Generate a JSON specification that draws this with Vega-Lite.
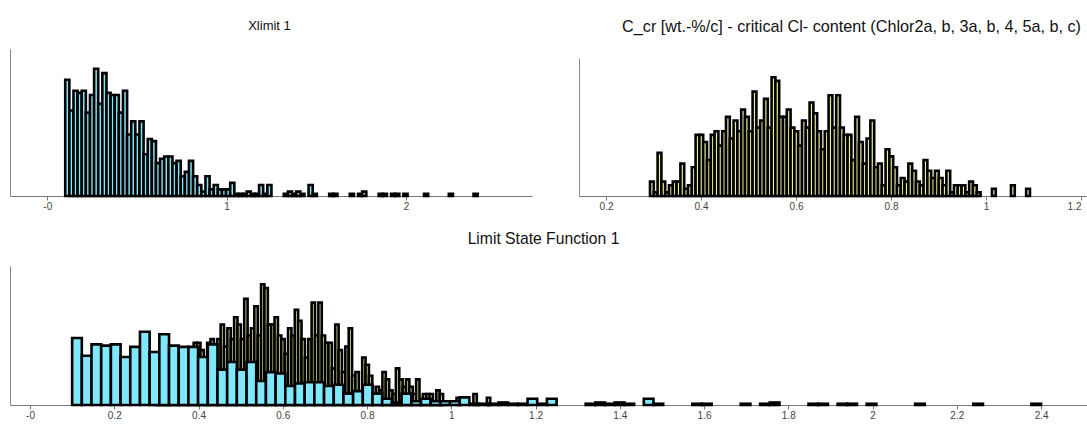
{
  "$schema": "https://vega.github.io/schema/vega-lite/v6.json",
  "padding": {"left": 10, "top": 18, "right": 0, "bottom": 0},
  "background": "white",
  "config": {
    "view": {"stroke": null},
    "font": "Liberation Sans",
    "axis": {"grid": false, "domainColor": "#777777", "domainWidth": 1, "tickColor": "#777777", "tickSize": 4, "labelColor": "#444444", "labelFontSize": 10, "labelFont": "Liberation Sans", "labelPadding": 1, "minExtent": 0, "title": null},
    "title": {"font": "Liberation Sans", "fontWeight": "normal", "color": "#111111", "anchor": "middle", "frame": "group"}
  },
  "datasets": {
    "xl": [
      {"lo": 0.1, "hi": 0.123, "n": 53}, {"lo": 0.123, "hi": 0.146, "n": 39}, {"lo": 0.146, "hi": 0.169, "n": 48}, {"lo": 0.169, "hi": 0.192, "n": 47},
      {"lo": 0.192, "hi": 0.215, "n": 48}, {"lo": 0.215, "hi": 0.238, "n": 38}, {"lo": 0.238, "hi": 0.261, "n": 46}, {"lo": 0.261, "hi": 0.284, "n": 58},
      {"lo": 0.284, "hi": 0.307, "n": 42}, {"lo": 0.307, "hi": 0.33, "n": 56}, {"lo": 0.33, "hi": 0.353, "n": 47}, {"lo": 0.353, "hi": 0.376, "n": 46},
      {"lo": 0.376, "hi": 0.399, "n": 46}, {"lo": 0.399, "hi": 0.422, "n": 38}, {"lo": 0.422, "hi": 0.445, "n": 48}, {"lo": 0.445, "hi": 0.468, "n": 28},
      {"lo": 0.468, "hi": 0.491, "n": 34}, {"lo": 0.491, "hi": 0.514, "n": 28}, {"lo": 0.514, "hi": 0.537, "n": 34}, {"lo": 0.537, "hi": 0.56, "n": 19},
      {"lo": 0.56, "hi": 0.583, "n": 26}, {"lo": 0.583, "hi": 0.606, "n": 25}, {"lo": 0.606, "hi": 0.629, "n": 15}, {"lo": 0.629, "hi": 0.652, "n": 17},
      {"lo": 0.652, "hi": 0.675, "n": 18}, {"lo": 0.675, "hi": 0.698, "n": 18}, {"lo": 0.698, "hi": 0.721, "n": 15}, {"lo": 0.721, "hi": 0.744, "n": 16},
      {"lo": 0.744, "hi": 0.767, "n": 9}, {"lo": 0.767, "hi": 0.79, "n": 11}, {"lo": 0.79, "hi": 0.813, "n": 16}, {"lo": 0.813, "hi": 0.836, "n": 9},
      {"lo": 0.836, "hi": 0.859, "n": 5}, {"lo": 0.859, "hi": 0.882, "n": 2}, {"lo": 0.882, "hi": 0.905, "n": 9}, {"lo": 0.905, "hi": 0.928, "n": 3},
      {"lo": 0.928, "hi": 0.951, "n": 5}, {"lo": 0.951, "hi": 0.974, "n": 3}, {"lo": 0.974, "hi": 0.997, "n": 3}, {"lo": 0.997, "hi": 1.02, "n": 3},
      {"lo": 1.02, "hi": 1.043, "n": 6}, {"lo": 1.043, "hi": 1.066, "n": 1}, {"lo": 1.066, "hi": 1.089, "n": 1}, {"lo": 1.089, "hi": 1.112, "n": 1},
      {"lo": 1.112, "hi": 1.135, "n": 2}, {"lo": 1.135, "hi": 1.158, "n": 1}, {"lo": 1.158, "hi": 1.181, "n": 1}, {"lo": 1.181, "hi": 1.204, "n": 5},
      {"lo": 1.204, "hi": 1.227, "n": 1}, {"lo": 1.227, "hi": 1.25, "n": 5}, {"lo": 1.319, "hi": 1.342, "n": 1}, {"lo": 1.342, "hi": 1.365, "n": 2},
      {"lo": 1.365, "hi": 1.388, "n": 1}, {"lo": 1.388, "hi": 1.411, "n": 2}, {"lo": 1.411, "hi": 1.434, "n": 1}, {"lo": 1.457, "hi": 1.48, "n": 5},
      {"lo": 1.48, "hi": 1.503, "n": 1}, {"lo": 1.572, "hi": 1.595, "n": 1}, {"lo": 1.595, "hi": 1.618, "n": 1}, {"lo": 1.687, "hi": 1.71, "n": 1},
      {"lo": 1.733, "hi": 1.756, "n": 1}, {"lo": 1.756, "hi": 1.779, "n": 2}, {"lo": 1.848, "hi": 1.871, "n": 1}, {"lo": 1.871, "hi": 1.894, "n": 1},
      {"lo": 1.917, "hi": 1.94, "n": 1}, {"lo": 1.94, "hi": 1.963, "n": 1}, {"lo": 1.986, "hi": 2.009, "n": 1}, {"lo": 2.101, "hi": 2.124, "n": 1},
      {"lo": 2.239, "hi": 2.262, "n": 1}, {"lo": 2.377, "hi": 2.4, "n": 1}
    ],
    "cc": [
      {"lo": 0.2925, "hi": 0.3005, "n": 4}, {"lo": 0.3005, "hi": 0.3085, "n": 1}, {"lo": 0.3085, "hi": 0.3165, "n": 12}, {"lo": 0.3165, "hi": 0.3245, "n": 4},
      {"lo": 0.3245, "hi": 0.3325, "n": 1}, {"lo": 0.3325, "hi": 0.3405, "n": 3}, {"lo": 0.3405, "hi": 0.3485, "n": 4}, {"lo": 0.3485, "hi": 0.3565, "n": 4},
      {"lo": 0.3565, "hi": 0.3645, "n": 9}, {"lo": 0.3645, "hi": 0.3725, "n": 2}, {"lo": 0.3725, "hi": 0.3805, "n": 3}, {"lo": 0.3805, "hi": 0.3885, "n": 8},
      {"lo": 0.3885, "hi": 0.3965, "n": 17}, {"lo": 0.3965, "hi": 0.4045, "n": 17}, {"lo": 0.4045, "hi": 0.4125, "n": 15}, {"lo": 0.4125, "hi": 0.4205, "n": 10},
      {"lo": 0.4205, "hi": 0.4285, "n": 17}, {"lo": 0.4285, "hi": 0.4365, "n": 18}, {"lo": 0.4365, "hi": 0.4445, "n": 14}, {"lo": 0.4445, "hi": 0.4525, "n": 18},
      {"lo": 0.4525, "hi": 0.4605, "n": 22}, {"lo": 0.4605, "hi": 0.4685, "n": 16}, {"lo": 0.4685, "hi": 0.4765, "n": 21}, {"lo": 0.4765, "hi": 0.4845, "n": 18},
      {"lo": 0.4845, "hi": 0.4925, "n": 24}, {"lo": 0.4925, "hi": 0.5005, "n": 22}, {"lo": 0.5005, "hi": 0.5085, "n": 18}, {"lo": 0.5085, "hi": 0.5165, "n": 29},
      {"lo": 0.5165, "hi": 0.5245, "n": 19}, {"lo": 0.5245, "hi": 0.5325, "n": 21}, {"lo": 0.5325, "hi": 0.5405, "n": 27}, {"lo": 0.5405, "hi": 0.5485, "n": 19},
      {"lo": 0.5485, "hi": 0.5565, "n": 33}, {"lo": 0.5565, "hi": 0.5645, "n": 32}, {"lo": 0.5645, "hi": 0.5725, "n": 22}, {"lo": 0.5725, "hi": 0.5805, "n": 22},
      {"lo": 0.5805, "hi": 0.5885, "n": 24}, {"lo": 0.5885, "hi": 0.5965, "n": 19}, {"lo": 0.5965, "hi": 0.6045, "n": 18}, {"lo": 0.6045, "hi": 0.6125, "n": 14},
      {"lo": 0.6125, "hi": 0.6205, "n": 21}, {"lo": 0.6205, "hi": 0.6285, "n": 19}, {"lo": 0.6285, "hi": 0.6365, "n": 26}, {"lo": 0.6365, "hi": 0.6445, "n": 23},
      {"lo": 0.6445, "hi": 0.6525, "n": 18}, {"lo": 0.6525, "hi": 0.6605, "n": 13}, {"lo": 0.6605, "hi": 0.6685, "n": 18}, {"lo": 0.6685, "hi": 0.6765, "n": 28},
      {"lo": 0.6765, "hi": 0.6845, "n": 19}, {"lo": 0.6845, "hi": 0.6925, "n": 28}, {"lo": 0.6925, "hi": 0.7005, "n": 19}, {"lo": 0.7005, "hi": 0.7085, "n": 17},
      {"lo": 0.7085, "hi": 0.7165, "n": 17}, {"lo": 0.7165, "hi": 0.7245, "n": 10}, {"lo": 0.7245, "hi": 0.7325, "n": 22}, {"lo": 0.7325, "hi": 0.7405, "n": 15},
      {"lo": 0.7405, "hi": 0.7485, "n": 9}, {"lo": 0.7485, "hi": 0.7565, "n": 16}, {"lo": 0.7565, "hi": 0.7645, "n": 21}, {"lo": 0.7645, "hi": 0.7725, "n": 8},
      {"lo": 0.7725, "hi": 0.7805, "n": 9}, {"lo": 0.7805, "hi": 0.7885, "n": 3}, {"lo": 0.7885, "hi": 0.7965, "n": 13}, {"lo": 0.7965, "hi": 0.8045, "n": 11},
      {"lo": 0.8045, "hi": 0.8125, "n": 8}, {"lo": 0.8125, "hi": 0.8205, "n": 3}, {"lo": 0.8205, "hi": 0.8285, "n": 5}, {"lo": 0.8285, "hi": 0.8365, "n": 4},
      {"lo": 0.8365, "hi": 0.8445, "n": 9}, {"lo": 0.8445, "hi": 0.8525, "n": 7}, {"lo": 0.8525, "hi": 0.8605, "n": 4}, {"lo": 0.8605, "hi": 0.8685, "n": 3},
      {"lo": 0.8685, "hi": 0.8765, "n": 10}, {"lo": 0.8765, "hi": 0.8845, "n": 7}, {"lo": 0.8845, "hi": 0.8925, "n": 5}, {"lo": 0.8925, "hi": 0.9005, "n": 7},
      {"lo": 0.9005, "hi": 0.9085, "n": 5}, {"lo": 0.9085, "hi": 0.9165, "n": 3}, {"lo": 0.9165, "hi": 0.9245, "n": 7}, {"lo": 0.9245, "hi": 0.9325, "n": 1},
      {"lo": 0.9325, "hi": 0.9405, "n": 3}, {"lo": 0.9405, "hi": 0.9485, "n": 3}, {"lo": 0.9485, "hi": 0.9565, "n": 3}, {"lo": 0.9565, "hi": 0.9645, "n": 1},
      {"lo": 0.9645, "hi": 0.9725, "n": 4}, {"lo": 0.9725, "hi": 0.9805, "n": 3}, {"lo": 0.9805, "hi": 0.9885, "n": 1}, {"lo": 1.0125, "hi": 1.0205, "n": 2},
      {"lo": 1.0525, "hi": 1.0605, "n": 3}, {"lo": 1.0845, "hi": 1.0925, "n": 2}
    ]
  },
  "spacing": 20,
  "vconcat": [
    {
      "spacing": 47,
      "hconcat": [
        {
          "width": 522,
          "height": 147,
          "title": {"text": "Xlimit 1", "fontSize": 13, "dx": -1.5, "offset": 16},
          "data": {"name": "xl"},
          "mark": {"type": "bar", "fill": "#7fe5f7", "stroke": "#000000", "strokeWidth": 2.6},
          "encoding": {
            "x": {"field": "lo", "type": "quantitative", "scale": {"domain": [-0.208, 2.703], "nice": false, "zero": false},
                  "axis": {"values": [0, 1, 2], "labelExpr": "datum.value === 0 ? '-0' : format(datum.value, '~g')"}},
            "x2": {"field": "hi"},
            "y": {"field": "n", "type": "quantitative", "scale": {"domain": [0, 67], "nice": false},
                  "axis": {"ticks": false, "labels": false, "domainColor": "#888888"}},
            "y2": {"datum": 0}
          }
        },
        {
          "width": 508,
          "height": 147,
          "title": {"text": "C_cr [wt.-%/c] - critical Cl- content (Chlor2a, b, 3a, b, 4, 5a, b, c)", "fontSize": 16.2, "dx": 18.5, "offset": 14},
          "data": {"name": "cc"},
          "mark": {"type": "bar", "fill": "#eeee9a", "stroke": "#000000", "strokeWidth": 2.6},
          "encoding": {
            "x": {"field": "lo", "type": "quantitative", "scale": {"domain": [0.143, 1.2126], "nice": false, "zero": false},
                  "axis": {"values": [0.2, 0.4, 0.6, 0.8, 1, 1.2], "labelExpr": "format(datum.value, '~g')", "labelFlush": 8}},
            "x2": {"field": "hi"},
            "y": {"field": "n", "type": "quantitative", "scale": {"domain": [0, 38.3], "nice": false, "range": [147, 9.2]},
                  "axis": {"ticks": false, "labels": false, "domainColor": "#888888"}},
            "y2": {"datum": 0}
          }
        }
      ]
    },
    {
      "width": 1077,
      "height": 139,
      "title": {"text": "Limit State Function 1", "fontSize": 15.7, "dx": -5, "offset": 18},
      "layer": [
        {
          "data": {"name": "cc"},
          "mark": {"type": "bar", "fill": "#eeee9a", "stroke": "#000000", "strokeWidth": 2.6},
          "encoding": {
            "x": {"field": "lo", "type": "quantitative", "scale": {"domain": [-0.0475, 2.509], "nice": false, "zero": false},
                  "axis": {"values": [0, 0.2, 0.4, 0.6, 0.8, 1, 1.2, 1.4, 1.6, 1.8, 2, 2.2, 2.4], "labelExpr": "datum.value === 0 ? '-0' : format(datum.value, '~g')"}},
            "x2": {"field": "hi"},
            "y": {"field": "n", "type": "quantitative", "scale": {"domain": [0, 38], "nice": false}, "axis": null},
            "y2": {"datum": 0}
          }
        },
        {
          "data": {"name": "xl"},
          "mark": {"type": "bar", "fill": "#80e8fc", "stroke": "#000000", "strokeWidth": 2.6},
          "encoding": {
            "x": {"field": "lo", "type": "quantitative", "scale": {"domain": [-0.0475, 2.509], "nice": false, "zero": false}},
            "x2": {"field": "hi"},
            "y": {"field": "n", "type": "quantitative", "scale": {"domain": [0, 110], "nice": false},
                  "axis": {"orient": "left", "ticks": false, "labels": false, "domainColor": "#888888"}},
            "y2": {"datum": 0}
          }
        }
      ],
      "resolve": {"scale": {"y": "independent"}, "axis": {"y": "independent"}}
    }
  ]
}
